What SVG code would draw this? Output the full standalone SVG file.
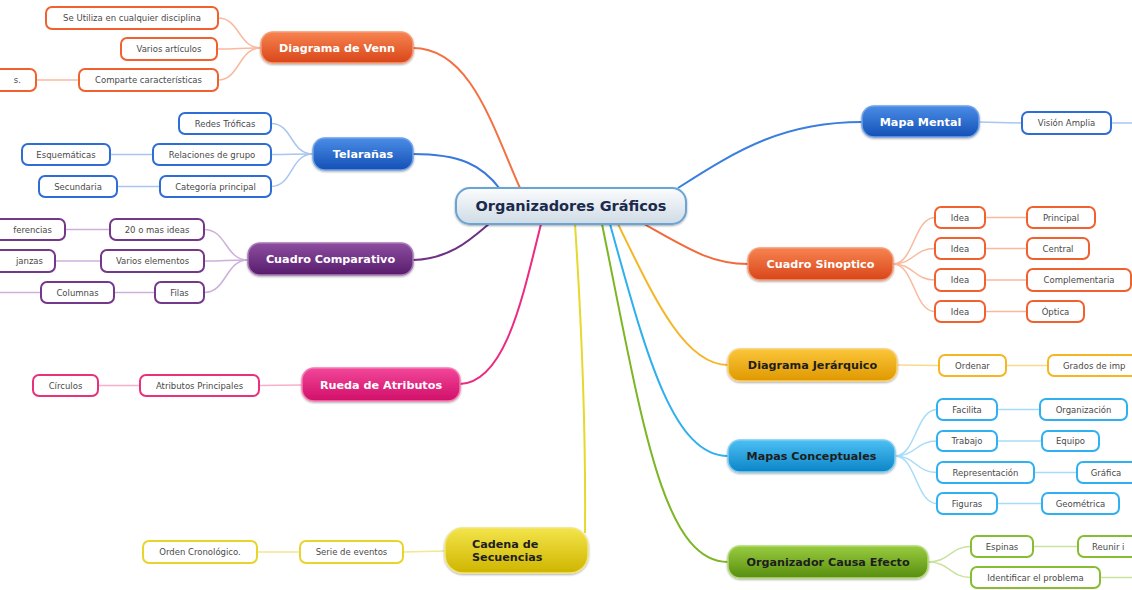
<svg xmlns="http://www.w3.org/2000/svg" width="1132" height="590" viewBox="0 0 1132 590">
  <defs>
    <linearGradient id="gOrange" x1="0" y1="0" x2="0" y2="1"><stop offset="0" stop-color="#f7834f"/><stop offset="1" stop-color="#d8461a"/></linearGradient>
    <linearGradient id="gBlue" x1="0" y1="0" x2="0" y2="1"><stop offset="0" stop-color="#4a8ce6"/><stop offset="1" stop-color="#1450b6"/></linearGradient>
    <linearGradient id="gPurple" x1="0" y1="0" x2="0" y2="1"><stop offset="0" stop-color="#8d4ea0"/><stop offset="1" stop-color="#571c6c"/></linearGradient>
    <linearGradient id="gPink" x1="0" y1="0" x2="0" y2="1"><stop offset="0" stop-color="#f2469a"/><stop offset="1" stop-color="#d00f68"/></linearGradient>
    <linearGradient id="gYellow" x1="0" y1="0" x2="0" y2="1"><stop offset="0" stop-color="#f3e44a"/><stop offset="1" stop-color="#cfb500"/></linearGradient>
    <linearGradient id="gAmber" x1="0" y1="0" x2="0" y2="1"><stop offset="0" stop-color="#fbc63a"/><stop offset="1" stop-color="#df9800"/></linearGradient>
    <linearGradient id="gCyan" x1="0" y1="0" x2="0" y2="1"><stop offset="0" stop-color="#4cc0f4"/><stop offset="1" stop-color="#0c84c6"/></linearGradient>
    <linearGradient id="gGreen" x1="0" y1="0" x2="0" y2="1"><stop offset="0" stop-color="#98cc40"/><stop offset="1" stop-color="#588e0e"/></linearGradient>
    <linearGradient id="gCenter" x1="0" y1="0" x2="0" y2="1"><stop offset="0" stop-color="#fbfcfd"/><stop offset="1" stop-color="#cfdbe5"/></linearGradient>
    <filter id="glow" x="-10%" y="-30%" width="120%" height="160%">
      <feGaussianBlur in="SourceAlpha" stdDeviation="1.2"/>
      <feOffset dy="1"/>
      <feComponentTransfer><feFuncA type="linear" slope="0.35"/></feComponentTransfer>
      <feMerge><feMergeNode/><feMergeNode in="SourceGraphic"/></feMerge>
    </filter>
  </defs>
  <style>
    .main rect { stroke-width: 1.5; filter: url(#glow); }
    .main text { font-family: "DejaVu Sans", Verdana, sans-serif; font-weight: bold; font-size: 11.2px; text-anchor: middle; }
    .main text.st { text-anchor: start; }
    .wt { fill: #ffffff; }
    .dk { fill: #1e1e1e; }
    .leaf rect { fill: #ffffff; stroke-width: 2; }
    .leaf text { font-family: "DejaVu Sans", Verdana, sans-serif; font-size: 8.5px; fill: #4a4a4a; text-anchor: middle; }
    .leaf text.end { text-anchor: end; }
    .leaf text.st { text-anchor: start; }
    .conn path { fill: none; }
    .br { stroke-width: 2; }
    .lf { stroke-width: 1.5; }
    .o rect { stroke: #f0612f; } .b rect { stroke: #2e6cd6; } .p rect { stroke: #74388a; }
    .k rect { stroke: #e8307c; } .y rect { stroke: #e6d52a; } .a rect { stroke: #f5b622; }
    .c rect { stroke: #2fb0f0; } .g rect { stroke: #86bd32; }
  </style>

  <!-- connectors -->
  <g id="connectors" class="conn">
    <!-- main branches -->
    <path class="br" stroke="#f47040" d="M413,48 C470,48 492,125 520,188"/>
    <path class="br" stroke="#3a78dc" d="M413,154 C460,154 482,165 500,189"/>
    <path class="br" stroke="#6e3184" d="M413,260 C450,259 470,240 490,223"/>
    <path class="br" stroke="#ec2a80" d="M460,384 C505,382 522,300 541,224"/>
    <path class="br" stroke="#e6d82c" d="M585,533 C586,420 580,300 575,224"/>
    <path class="br" stroke="#3a7ede" d="M678,188 C740,148 785,122 862,122"/>
    <path class="br" stroke="#f06a3a" d="M644,224 C690,250 712,264 748,264"/>
    <path class="br" stroke="#f5b626" d="M618,224 C655,300 685,365 728,365"/>
    <path class="br" stroke="#2eb0ee" d="M610,224 C645,350 672,456 728,456"/>
    <path class="br" stroke="#7cb624" d="M602,224 C642,420 662,562 728,562"/>
    <!-- Diagrama de Venn -->
    <g stroke="#f9b99f">
      <path class="lf" d="M261,48 C238,48 240,18 218,18"/>
      <path class="lf" d="M261,48 C238,48 240,49 217,49"/>
      <path class="lf" d="M261,48 C238,48 240,80 218,80"/>
      <path class="lf" d="M79,80 L36,80"/>
    </g>
    <!-- Telarañas -->
    <g stroke="#a9c6f0">
      <path class="lf" d="M313,154 C290,154 293,123.5 271,123.5"/>
      <path class="lf" d="M313,154 C290,154 293,154.5 271,154.5"/>
      <path class="lf" d="M313,154 C290,154 293,186.5 271,186.5"/>
      <path class="lf" d="M153,154.5 L110,154.5"/>
      <path class="lf" d="M160,186.5 L117,186.5"/>
    </g>
    <!-- Cuadro Comparativo -->
    <g stroke="#cdb0da">
      <path class="lf" d="M248,260 C225,260 227,229.5 204,229.5"/>
      <path class="lf" d="M248,260 C225,260 227,261 204,261"/>
      <path class="lf" d="M248,260 C225,260 227,292.5 204,292.5"/>
      <path class="lf" d="M110,229.5 L65,229.5"/>
      <path class="lf" d="M101,261 L55,261"/>
      <path class="lf" d="M155,292.5 L114,292.5"/>
      <path class="lf" d="M41,292.5 L0,292.5"/>
    </g>
    <!-- Rueda de Atributos -->
    <g stroke="#f7afcb">
      <path class="lf" d="M302,385 L259,385.5"/>
      <path class="lf" d="M140,385.5 L98,385.5"/>
    </g>
    <!-- Cadena de Secuencias -->
    <g stroke="#f1e890">
      <path class="lf" d="M445,551 L403,552"/>
      <path class="lf" d="M300,552 L257,552"/>
    </g>
    <!-- Mapa Mental -->
    <g stroke="#a9c6f0">
      <path class="lf" d="M979,122 L1022,123"/>
      <path class="lf" d="M1111,123 L1132,123"/>
    </g>
    <!-- Cuadro Sinoptico -->
    <g stroke="#f9b99f">
      <path class="lf" d="M893,264 C914,264 914,217.5 935,217.5"/>
      <path class="lf" d="M893,264 C914,264 914,248.5 935,248.5"/>
      <path class="lf" d="M893,264 C914,264 914,280 935,280"/>
      <path class="lf" d="M893,264 C914,264 914,311.5 935,311.5"/>
      <path class="lf" d="M985,217.5 L1027,217.5"/>
      <path class="lf" d="M985,248.5 L1027,248.5"/>
      <path class="lf" d="M985,280 L1027,280"/>
      <path class="lf" d="M985,311.5 L1027,311.5"/>
    </g>
    <!-- Diagrama Jerárquico -->
    <g stroke="#f9d98e">
      <path class="lf" d="M897,365 L939,365.5"/>
      <path class="lf" d="M1006,365.5 L1048,365.5"/>
    </g>
    <!-- Mapas Conceptuales -->
    <g stroke="#a6dcf7">
      <path class="lf" d="M895,456 C916,456 916,409.5 937,409.5"/>
      <path class="lf" d="M895,456 C916,456 916,441 937,441"/>
      <path class="lf" d="M895,456 C916,456 916,472.5 937,472.5"/>
      <path class="lf" d="M895,456 C916,456 916,503.5 937,503.5"/>
      <path class="lf" d="M997,409.5 L1040,409.5"/>
      <path class="lf" d="M997,441 L1042,441"/>
      <path class="lf" d="M1034,472.5 L1077,472.5"/>
      <path class="lf" d="M997,503.5 L1042,503.5"/>
    </g>
    <!-- Organizador Causa Efecto -->
    <g stroke="#c9e2a0">
      <path class="lf" d="M928,562 C950,562 950,546.5 971,546.5"/>
      <path class="lf" d="M928,562 C950,562 950,577.5 971,577.5"/>
      <path class="lf" d="M1033,546.5 L1078,546.5"/>
      <path class="lf" d="M1100,577.5 L1132,577.5"/>
    </g>
  </g>

  <!-- central topic -->
  <g id="center">
    <rect x="456" y="188" width="230" height="36" rx="14" fill="url(#gCenter)" stroke="#6aa4d4" stroke-width="2" filter="url(#glow)"/>
    <text x="571" y="211" font-family="DejaVu Sans, Verdana, sans-serif" font-weight="bold" font-size="14.5" fill="#1b2a4c" text-anchor="middle">Organizadores Gráficos</text>
  </g>

  <!-- main topics -->
  <g id="venn" class="main"><rect x="261" y="32" width="152" height="31" rx="12" fill="url(#gOrange)" stroke="#f59a74"/><text class="wt" x="337" y="51.5">Diagrama de Venn</text></g>
  <g id="telaranas" class="main"><rect x="313" y="138" width="100" height="32" rx="12" fill="url(#gBlue)" stroke="#6fa2ea"/><text class="wt" x="363" y="158">Telarañas</text></g>
  <g id="comparativo" class="main"><rect x="248" y="243" width="165" height="32" rx="12" fill="url(#gPurple)" stroke="#a87ab8"/><text class="wt" x="330.5" y="263">Cuadro Comparativo</text></g>
  <g id="rueda" class="main"><rect x="302" y="368" width="158" height="33" rx="12" fill="url(#gPink)" stroke="#f67ab2"/><text class="wt" x="381" y="388.5">Rueda de Atributos</text></g>
  <g id="cadena" class="main"><rect x="445" y="528" width="143" height="45" rx="18" fill="url(#gYellow)" stroke="#f2e57a"/><text class="dk st" x="472" y="548">Cadena de</text><text class="dk st" x="472" y="561">Secuencias</text></g>
  <g id="mapa-mental" class="main"><rect x="862" y="106" width="117" height="31" rx="12" fill="url(#gBlue)" stroke="#6fa2ea"/><text class="wt" x="920.5" y="125.5">Mapa Mental</text></g>
  <g id="sinoptico" class="main"><rect x="748" y="248" width="145" height="32" rx="12" fill="url(#gOrange)" stroke="#f59a74"/><text class="wt" x="820.5" y="268">Cuadro Sinoptico</text></g>
  <g id="jerarquico" class="main"><rect x="728" y="349" width="169" height="32" rx="12" fill="url(#gAmber)" stroke="#f9d070"/><text class="dk" x="812.5" y="369">Diagrama Jerárquico</text></g>
  <g id="conceptuales" class="main"><rect x="728" y="440" width="167" height="32" rx="12" fill="url(#gCyan)" stroke="#7ccdf4"/><text class="dk" x="811.5" y="460">Mapas Conceptuales</text></g>
  <g id="causa-efecto" class="main"><rect x="728" y="546" width="200" height="32" rx="12" fill="url(#gGreen)" stroke="#b2da72"/><text class="dk" x="828" y="566">Organizador Causa Efecto</text></g>

  <!-- Diagrama de Venn subtopics -->
  <g id="venn-1" class="leaf o"><rect x="46" y="7" width="172" height="22" rx="6"/><text x="132" y="21">Se Utiliza en cualquier disciplina</text></g>
  <g id="venn-2" class="leaf o"><rect x="121" y="38" width="96" height="22" rx="6"/><text x="169" y="52">Varios artículos</text></g>
  <g id="venn-3" class="leaf o"><rect x="79" y="69" width="139" height="22" rx="6"/><text x="148.5" y="83">Comparte características</text></g>
  <g id="venn-4" class="leaf o"><rect x="-60" y="69" width="96" height="22" rx="6"/><text class="end" x="21" y="83">s.</text></g>

  <!-- Telarañas subtopics -->
  <g id="tel-1" class="leaf b"><rect x="179" y="113" width="92" height="21" rx="6"/><text x="225" y="126.5">Redes Tróficas</text></g>
  <g id="tel-2" class="leaf b"><rect x="153" y="144" width="118" height="21" rx="6"/><text x="212" y="157.5">Relaciones de grupo</text></g>
  <g id="tel-3" class="leaf b"><rect x="22" y="144" width="88" height="21" rx="6"/><text x="66" y="157.5">Esquemáticas</text></g>
  <g id="tel-4" class="leaf b"><rect x="160" y="176" width="111" height="21" rx="6"/><text x="215.5" y="189.5">Categoría principal</text></g>
  <g id="tel-5" class="leaf b"><rect x="39" y="176" width="78" height="21" rx="6"/><text x="78" y="189.5">Secundaria</text></g>

  <!-- Cuadro Comparativo subtopics -->
  <g id="comp-1" class="leaf p"><rect x="110" y="219" width="94" height="21" rx="6"/><text x="157" y="232.5">20 o mas ideas</text></g>
  <g id="comp-2" class="leaf p"><rect x="-40" y="219" width="105" height="21" rx="6"/><text class="end" x="52" y="232.5">ferencias</text></g>
  <g id="comp-3" class="leaf p"><rect x="101" y="250" width="103" height="22" rx="6"/><text x="152.5" y="264">Varios elementos</text></g>
  <g id="comp-4" class="leaf p"><rect x="-50" y="250" width="105" height="22" rx="6"/><text class="end" x="43" y="264">janzas</text></g>
  <g id="comp-5" class="leaf p"><rect x="155" y="282" width="49" height="21" rx="6"/><text x="179.5" y="295.5">Filas</text></g>
  <g id="comp-6" class="leaf p"><rect x="41" y="282" width="73" height="21" rx="6"/><text x="77.5" y="295.5">Columnas</text></g>

  <!-- Rueda de Atributos subtopics -->
  <g id="rueda-1" class="leaf k"><rect x="140" y="375" width="119" height="21" rx="6"/><text x="199.5" y="388.5">Atributos Principales</text></g>
  <g id="rueda-2" class="leaf k"><rect x="33" y="375" width="65" height="21" rx="6"/><text x="65.5" y="388.5">Círculos</text></g>

  <!-- Cadena de Secuencias subtopics -->
  <g id="cad-1" class="leaf y"><rect x="300" y="541" width="103" height="22" rx="6"/><text x="351.5" y="555">Serie de eventos</text></g>
  <g id="cad-2" class="leaf y"><rect x="143" y="541" width="114" height="22" rx="6"/><text x="200" y="555">Orden Cronológico.</text></g>

  <!-- Mapa Mental subtopic -->
  <g id="mm-1" class="leaf b"><rect x="1022" y="112" width="89" height="22" rx="6"/><text x="1066.5" y="126">Visión Amplia</text></g>

  <!-- Cuadro Sinoptico subtopics -->
  <g id="sin-1" class="leaf o"><rect x="935" y="207" width="50" height="21" rx="6"/><text x="960" y="220.5">Idea</text></g>
  <g id="sin-2" class="leaf o"><rect x="1027" y="207" width="68" height="21" rx="6"/><text x="1061" y="220.5">Principal</text></g>
  <g id="sin-3" class="leaf o"><rect x="935" y="238" width="50" height="21" rx="6"/><text x="960" y="251.5">Idea</text></g>
  <g id="sin-4" class="leaf o"><rect x="1027" y="238" width="62" height="21" rx="6"/><text x="1058" y="251.5">Central</text></g>
  <g id="sin-5" class="leaf o"><rect x="935" y="269" width="50" height="22" rx="6"/><text x="960" y="283">Idea</text></g>
  <g id="sin-6" class="leaf o"><rect x="1027" y="269" width="104" height="22" rx="6"/><text x="1079" y="283">Complementaria</text></g>
  <g id="sin-7" class="leaf o"><rect x="935" y="301" width="50" height="21" rx="6"/><text x="960" y="314.5">Idea</text></g>
  <g id="sin-8" class="leaf o"><rect x="1027" y="301" width="57" height="21" rx="6"/><text x="1055.5" y="314.5">Óptica</text></g>

  <!-- Diagrama Jerárquico subtopics -->
  <g id="jer-1" class="leaf a"><rect x="939" y="355" width="67" height="21" rx="6"/><text x="972.5" y="368.5">Ordenar</text></g>
  <g id="jer-2" class="leaf a"><rect x="1048" y="355" width="120" height="21" rx="6"/><text class="st" x="1063" y="368.5">Grados de imp</text></g>

  <!-- Mapas Conceptuales subtopics -->
  <g id="con-1" class="leaf c"><rect x="937" y="399" width="60" height="21" rx="6"/><text x="967" y="412.5">Facilita</text></g>
  <g id="con-2" class="leaf c"><rect x="1040" y="399" width="87" height="21" rx="6"/><text x="1083.5" y="412.5">Organización</text></g>
  <g id="con-3" class="leaf c"><rect x="937" y="431" width="60" height="20" rx="6"/><text x="967" y="444">Trabajo</text></g>
  <g id="con-4" class="leaf c"><rect x="1042" y="431" width="57" height="20" rx="6"/><text x="1070.5" y="444">Equipo</text></g>
  <g id="con-5" class="leaf c"><rect x="937" y="462" width="97" height="21" rx="6"/><text x="985.5" y="475.5">Representación</text></g>
  <g id="con-6" class="leaf c"><rect x="1077" y="462" width="70" height="21" rx="6"/><text x="1106" y="475.5">Gráfica</text></g>
  <g id="con-7" class="leaf c"><rect x="937" y="493" width="60" height="21" rx="6"/><text x="967" y="506.5">Figuras</text></g>
  <g id="con-8" class="leaf c"><rect x="1042" y="493" width="77" height="21" rx="6"/><text x="1080.5" y="506.5">Geométrica</text></g>

  <!-- Organizador Causa Efecto subtopics -->
  <g id="ce-1" class="leaf g"><rect x="971" y="536" width="62" height="21" rx="6"/><text x="1002" y="549.5">Espinas</text></g>
  <g id="ce-2" class="leaf g"><rect x="1078" y="536" width="100" height="21" rx="6"/><text class="st" x="1092" y="549.5">Reunir i</text></g>
  <g id="ce-3" class="leaf g"><rect x="971" y="567" width="129" height="21" rx="6"/><text x="1035.5" y="580.5">Identificar el problema</text></g>
</svg>
